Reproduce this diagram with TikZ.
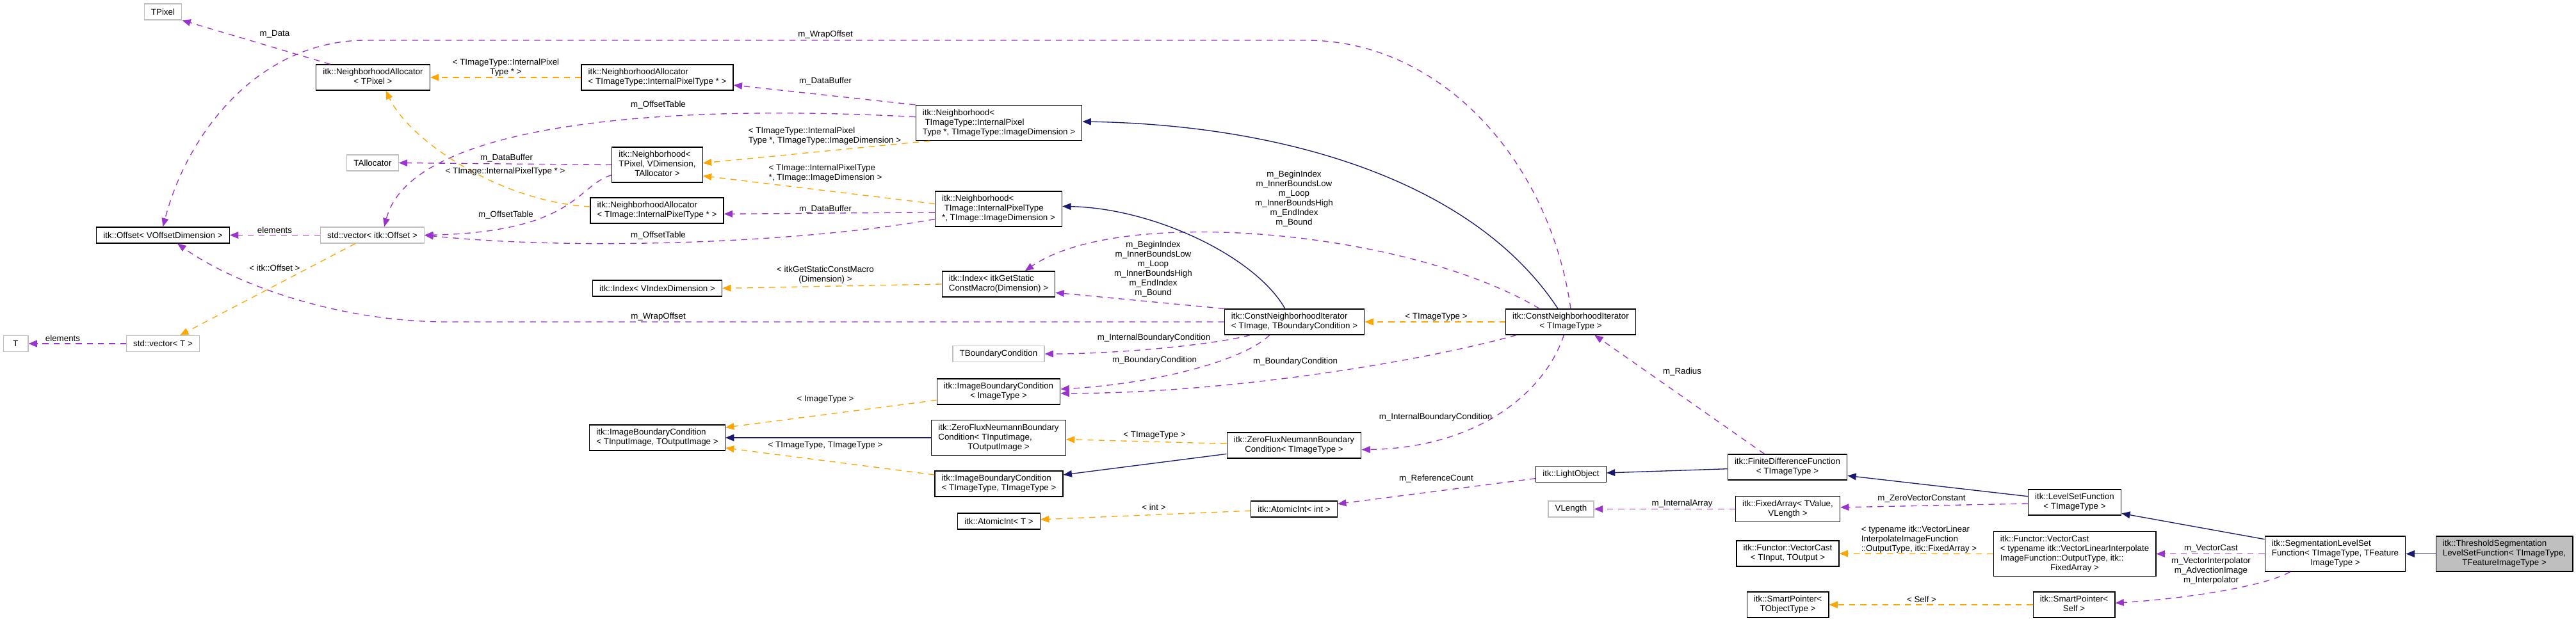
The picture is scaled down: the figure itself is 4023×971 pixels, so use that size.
\documentclass[tikz,border=0pt]{standalone}
\usepackage{fontspec}
\setmainfont{Liberation Sans}
\usepackage{tikz}
\usetikzlibrary{arrows.meta}
\definecolor{dxnavy}{HTML}{191970}
\definecolor{dxorange}{HTML}{FFA500}
\definecolor{dxpurple}{HTML}{9A32CD}
\definecolor{dxgray}{HTML}{BFBFBF}
\newcommand{\dxfont}{\fontsize{10}{11.25}\selectfont}
\newcommand{\dxl}[2]{\begin{tabular}{@{}l@{}}#1\\\multicolumn{1}{@{}c@{}}{#2}\end{tabular}}

\begin{document}
\begin{tikzpicture}[x=0.75pt, y=-0.75pt,
    cls/.style={draw=black, line width=1pt, fill=white, inner xsep=8pt, inner ysep=3.75pt,
                minimum height=18.75pt, minimum width=29pt, font=\dxfont},
    ext/.style={cls, draw=dxgray},
    cur/.style={cls, fill=dxgray},
    inh/.style={-{Triangle[length=10pt, width=8pt]}, line width=1pt, dxnavy},
    tmpl/.style={-{Triangle[length=10pt, width=8pt]}, line width=1pt, dxorange, dash pattern=on 7pt off 6pt},
    member/.style={-{Triangle[length=10pt, width=8pt]}, line width=1pt, dxpurple, dash pattern=on 7pt off 6pt},
    lbl/.style={font=\dxfont, inner sep=0pt, align=center, text=black},
]
    \useasboundingbox[fill=white] (0,0) rectangle (4023,971);

    % === classes ===
    \node[ext] (tpixel) at (254.5,18.5) {TPixel};
    \node[cls] (allocpix) at (582.5,121) {\dxl{itk::NeighborhoodAllocator}{< TPixel >}};
    \node[ext] (tallocator) at (582,254.5) {TAllocator};
    \node[cls] (offset) at (254.5,367.5) {itk::Offset< VOffsetDimension >};
    \node[ext] (vecoff) at (581.5,367.5) {std::vector< itk::Offset >};
    \node[ext] (tt) at (24.5,537) {T};
    \node[ext] (vect) at (254.5,537) {std::vector< T >};

    \node[cls] (alloctype) at (1026.5,121) {\dxl{itk::NeighborhoodAllocator}{< TImageType::InternalPixelType * >}};
    \node[cls] (nbhdpix) at (1026.5,257.5) {\dxl{itk::Neighborhood<\\TPixel, VDimension,}{TAllocator >}};
    \node[cls] (allocimg) at (1026,329) {\dxl{itk::NeighborhoodAllocator}{< TImage::InternalPixelType * >}};
    \node[cls] (indexv) at (1026.5,450.5) {itk::Index< VIndexDimension >};
    \node[cls] (ibcio) at (1026.5,684) {\dxl{itk::ImageBoundaryCondition}{< TInputImage, TOutputImage >}};

    \node[cls] (nbhdtype) at (1560,192) {\dxl{itk::Neighborhood<\\\ TImageType::InternalPixel}{Type *, TImageType::ImageDimension >}};
    \node[cls] (nbhdimg) at (1559.5,326.5) {\dxl{itk::Neighborhood<\\\ TImage::InternalPixelType}{*, TImage::ImageDimension >}};
    \node[cls] (indexm) at (1559.5,444) {\dxl{itk::Index< itkGetStatic}{ConstMacro(Dimension) >}};
    \node[ext] (tbc) at (1559.5,553) {TBoundaryCondition};
    \node[cls] (ibcimg) at (1559.5,612) {\dxl{itk::ImageBoundaryCondition}{< ImageType >}};
    \node[cls] (zfio) at (1559.5,684) {\dxl{itk::ZeroFluxNeumannBoundary\\Condition< TInputImage,}{TOutputImage >}};
    \node[cls] (ibctt) at (1560,756) {\dxl{itk::ImageBoundaryCondition}{< TImageType, TImageType >}};
    \node[cls] (atomt) at (1560,814.5) {itk::AtomicInt< T >};

    \node[cls] (cnitb) at (2021.5,503) {\dxl{itk::ConstNeighborhoodIterator}{< TImage, TBoundaryCondition >}};
    \node[cls] (zftype) at (2021,696) {\dxl{itk::ZeroFluxNeumannBoundary}{Condition< TImageType >}};
    \node[cls] (atomint) at (2021,795.5) {itk::AtomicInt< int >};

    \node[cls] (cnitype) at (2453,503) {\dxl{itk::ConstNeighborhoodIterator}{< TImageType >}};
    \node[cls] (lightobj) at (2453.5,741) {itk::LightObject};
    \node[ext] (vlength) at (2453.5,795.5) {VLength};

    \node[cls] (fdf) at (2791.5,730) {\dxl{itk::FiniteDifferenceFunction}{< TImageType >}};
    \node[cls] (fixarr) at (2792,795.5) {\dxl{itk::FixedArray< TValue,}{VLength >}};
    \node[cls] (vcastio) at (2792,865) {\dxl{itk::Functor::VectorCast}{< TInput, TOutput >}};
    \node[cls] (sptrobj) at (2792,945) {\dxl{itk::SmartPointer<}{TObjectType >}};

    \node[cls] (lsf) at (3240,785) {\dxl{itk::LevelSetFunction}{< TImageType >}};
    \node[cls] (vcastty) at (3240,865.5) {\dxl{itk::Functor::VectorCast\\< typename itk::VectorLinearInterpolate\\ImageFunction::OutputType, itk::}{FixedArray >}};
    \node[cls] (sptrself) at (3239,945) {\dxl{itk::SmartPointer<}{Self >}};

    \node[cls] (seglsf) at (3647,865.5) {\dxl{itk::SegmentationLevelSet\\Function< TImageType, TFeature}{ImageType >}};
    \node[cur] (thresh) at (3911,865.5) {\dxl{itk::ThresholdSegmentation\\LevelSetFunction< TImageType,}{TFeatureImageType >}};

    % === members ===
    \draw[member] ([xshift=17pt]allocpix.north west) -- (tpixel.south east)
        node[lbl] (lData) at (429,53) {m\_Data};
    \draw[member] (cnitype.north) .. controls (2420,250) and (2250,63) .. (2040,63) -- (571,63)
        .. controls (410,63) and (295,200) .. (offset.north)
        node[lbl] (lWrapA) at (1289,54) {m\_WrapOffset};
    \draw[member] (cnitb.west) -- (700,503) .. controls (520,503) and (360,440) .. ([xshift=17pt]offset.south)
        node[lbl] (lWrapB) at (1028,495) {m\_WrapOffset};
    \draw[member] (vecoff.west) -- (offset.east) node[lbl] (lElemA) at (429,360) {elements};
    \draw[member] (vect.west) -- (tt.east) node[lbl] (lElemB) at (98,529) {elements};
    \draw[member] (nbhdpix.west) -- (tallocator.east) node[lbl] (lBufA) at (791,247) {m\_DataBuffer};
    \draw[member] ([yshift=-12pt]nbhdpix.west) .. controls (900,290) and (900,362) .. (vecoff.east)
        node[lbl] (lTabA) at (790,336) {m\_OffsetTable};
    \draw[member] (nbhdtype.north west) -- ([yshift=-9pt]alloctype.east)
        node[lbl] (lBufB) at (1289,127) {m\_DataBuffer};
    \draw[member] ([yshift=7pt]nbhdtype.west) .. controls (1000,160) and (640,200) .. ([xshift=14pt]vecoff.north)
        node[lbl] (lTabB) at (1028,164) {m\_OffsetTable};
    \draw[member] ([yshift=-4pt]nbhdimg.west) -- ([yshift=-4pt]allocimg.east)
        node[lbl] (lBufC) at (1289,327) {m\_DataBuffer};
    \draw[member] ([yshift=-12pt]nbhdimg.west) .. controls (1250,380) and (900,392) .. (vecoff.east)
        node[lbl] (lTabC) at (1028,368) {m\_OffsetTable};
    \draw[member] ([xshift=40pt]cnitype.north west) .. controls (2200,360) and (1750,320) .. ([xshift=31pt]indexm.north)
        node[lbl] (lIdxA) at (2021,310) {m\_BeginIndex\\m\_InnerBoundsLow\\m\_Loop\\m\_InnerBoundsHigh\\m\_EndIndex\\m\_Bound};
    \draw[member] (cnitb.north west) -- ([yshift=-10pt]indexm.east)
        node[lbl] (lIdxB) at (1801,420) {m\_BeginIndex\\m\_InnerBoundsLow\\m\_Loop\\m\_InnerBoundsHigh\\m\_EndIndex\\m\_Bound};
    \draw[member] ([xshift=-52pt]cnitb.south) .. controls (1900,538) and (1750,553) .. (tbc.east)
        node[lbl] (lIbcA) at (1802,528) {m\_InternalBoundaryCondition};
    \draw[member] ([xshift=-29pt]cnitb.south) .. controls (1940,565) and (1800,600) .. ([yshift=3pt]ibcimg.east)
        node[lbl] (lBcA) at (1803,563) {m\_BoundaryCondition};
    \draw[member] ([xshift=13pt]cnitype.south west) .. controls (2200,570) and (1900,615) .. ([yshift=-2pt]ibcimg.east)
        node[lbl] (lBcB) at (2023,565) {m\_BoundaryCondition};
    \draw[member] ([xshift=-8pt]cnitype.south) .. controls (2410,620) and (2300,700) .. ([yshift=-5pt]zftype.east)
        node[lbl] (lIbcB) at (2242,652) {m\_InternalBoundaryCondition};
    \draw[member] ([yshift=-5pt]lightobj.west) -- ([yshift=6pt]atomint.east)
        node[lbl] (lRef) at (2243,748) {m\_ReferenceCount};
    \draw[member] ([xshift=-27pt]fdf.north) -- ([xshift=28pt]cnitype.south)
        node[lbl] (lRad) at (2627,581) {m\_Radius};
    \draw[member] (fixarr.west) -- (vlength.east) node[lbl] (lArr) at (2627,787) {m\_InternalArray};
    \draw[member] ([yshift=-1.5pt]lsf.west) -- ([yshift=2pt]fixarr.east)
        node[lbl] (lZero) at (3001,779) {m\_ZeroVectorConstant};
    \draw[member] (seglsf.west) -- (vcastty.east) node[lbl] (lCast) at (3453,857) {m\_VectorCast};
    \draw[member] ([xshift=-53pt]seglsf.south) .. controls (3540,915) and (3420,935) .. ([yshift=2pt]sptrself.east)
        node[lbl] (lInterp) at (3453,892) {m\_VectorInterpolator\\m\_AdvectionImage\\m\_Interpolator};

    % === template instances ===
    \draw[tmpl] ([xshift=-20pt]vecoff.south) -- ([xshift=20pt]vect.north)
        node[lbl] (lOff) at (429,419) {< itk::Offset >};
    \draw[tmpl] (alloctype.west) -- (allocpix.east)
        node[lbl] (lPixA) at (790,106) {\dxl{< TImageType::InternalPixel}{Type * >}};
    \draw[tmpl] ([yshift=4.5pt]allocimg.west) .. controls (780,315) and (640,220) .. ([xshift=15pt]allocpix.south)
        node[lbl] (lPixB) at (789,268) {< TImage::InternalPixelType * >};
    \draw[tmpl] ([xshift=17pt]nbhdtype.south west) -- ([yshift=2pt]nbhdpix.east)
        node[lbl] (lNbA) at (1288,213) {\dxl{< TImageType::InternalPixel}{Type *, TImageType::ImageDimension >}};
    \draw[tmpl] ([yshift=6pt]nbhdimg.west) -- ([yshift=-13pt]nbhdpix.east)
        node[lbl] (lNbB) at (1289,271) {\dxl{< TImage::InternalPixelType}{*, TImage::ImageDimension >}};
    \draw[tmpl] (indexm.west) -- (indexv.east)
        node[lbl] (lIdx) at (1289,430) {\dxl{< itkGetStaticConstMacro}{(Dimension) >}};
    \draw[tmpl] (cnitype.west) -- (cnitb.east) node[lbl] (lCni) at (2243,495) {< TImageType >};
    \draw[tmpl] ([yshift=2pt]zftype.west) -- ([yshift=-2pt]zfio.east)
        node[lbl] (lZf) at (1803,680) {< TImageType >};
    \draw[tmpl] ([yshift=-10pt]ibcimg.west) -- ([yshift=12pt]ibcio.east)
        node[lbl] (lImg) at (1289,624) {< ImageType >};
    \draw[tmpl] ([yshift=10.5pt]ibctt.west) -- ([yshift=-12pt]ibcio.east)
        node[lbl] (lTT) at (1289,696) {< TImageType, TImageType >};
    \draw[tmpl] ([yshift=-2pt]atomint.west) -- ([yshift=2pt]atomt.east)
        node[lbl] (lInt) at (1802,793) {< int >};
    \draw[tmpl] (vcastty.west) -- (vcastio.east)
        node[lbl] (lVc) at (2997,843) {\dxl{< typename itk::VectorLinear\\InterpolateImageFunction}{::OutputType, itk::FixedArray >}};
    \draw[tmpl] (sptrself.west) -- (sptrobj.east) node[lbl] (lSelf) at (3001,937) {< Self >};

    % === inheritance ===
    \draw[inh] ([xshift=-15pt]cnitype.north) .. controls (2300,280) and (2000,195) .. ([yshift=1.5pt]nbhdtype.east);
    \draw[inh] ([xshift=-11pt]cnitb.north) .. controls (1960,400) and (1800,325) .. ([yshift=3pt]nbhdimg.east);
    \draw[inh] (zfio.west) -- (ibcio.east);
    \draw[inh] ([yshift=-10pt]zftype.west) -- ([yshift=10.5pt]ibctt.east);
    \draw[inh] ([yshift=-2pt]fdf.west) -- ([yshift=1.5pt]lightobj.east);
    \draw[inh] ([yshift=7pt]lsf.west) -- ([yshift=-10pt]fdf.east);
    \draw[inh] ([yshift=-4pt]seglsf.north west) -- ([yshift=-13pt]lsf.east);
    \draw[inh] (thresh.west) -- (seglsf.east);
\end{tikzpicture}
\end{document}
